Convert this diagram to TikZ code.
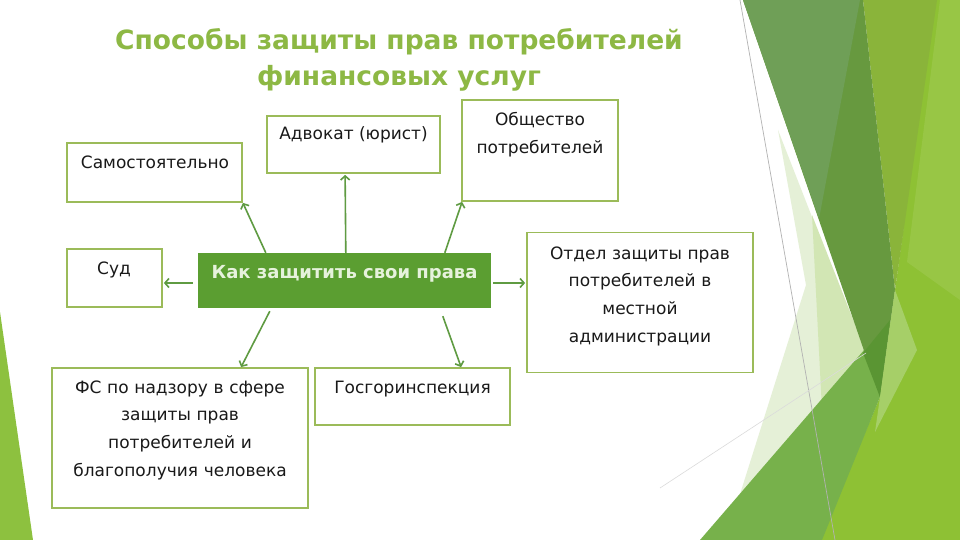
\documentclass[tikz,border=0pt]{standalone}
\usepackage{fontspec}
\setmainfont{DejaVu Sans}
\usetikzlibrary{arrows.meta,calc}
\definecolor{titlec}{HTML}{8DB844}
\definecolor{boxc}{HTML}{9BBB59}
\definecolor{arrc}{HTML}{5F9B42}
\definecolor{centc}{HTML}{5B9E31}
\definecolor{centt}{HTML}{E6F2DC}
\definecolor{darkg}{HTML}{67993F}
\definecolor{sageg}{HTML}{6F9F57}
\definecolor{oliveg}{HTML}{8AB43A}
\definecolor{brightg}{HTML}{8EC134}
\definecolor{stripg}{HTML}{98C645}
\definecolor{medg}{HTML}{77B14B}
\definecolor{patchg}{HTML}{5A9533}
\definecolor{sliverg}{HTML}{A6CF68}
\definecolor{paleg}{HTML}{E5F0D7}
\definecolor{pale2g}{HTML}{D2E6B4}
\definecolor{leftg}{HTML}{8DC13F}
\tikzset{
  box/.style={draw=boxc, line width=1.8pt, fill=white, inner sep=0pt},
  txt/.style={anchor=base, inner sep=0pt, align=center, text=black!90,
    font=\fontsize{17}{27.8}\selectfont},
  arr/.style={draw=arrc, line width=1.6pt, -{Straight Barb[length=4pt,width=9pt]}},
  ttl/.style={text=titlec, inner sep=0pt, anchor=base, font=\bfseries\fontsize{26.5}{36}\selectfont}
}
\begin{document}
\begin{tikzpicture}[x=1pt,y=-1pt]
\fill[white] (0,0) rectangle (960,540);
\useasboundingbox (0,0) rectangle (960,540);
% decorative background
\fill[leftg] (0,312) -- (33,540) -- (0,540) -- cycle;
\fill[brightg] (935,0) -- (960,0) -- (960,540) -- (820,540) -- (880,397) -- (895,290) -- cycle;
\fill[stripg] (940,0) -- (960,0) -- (960,300) -- (907,262) -- cycle;
\fill[oliveg] (863,0) -- (937,0) -- (895,290) -- cycle;
\fill[paleg] (778,130) -- (806,285) -- (735,510) -- (866,355) -- cycle;
\fill[pale2g] (812,215) -- (869,360) -- (822,410) -- cycle;
\fill[medg] (700,540) -- (890,320) -- (880,397) -- (822,540) -- cycle;
\fill[darkg] (743,0) -- (863,0) -- (895,290) -- (880,397) -- cycle;
\fill[sageg] (743,0) -- (860,0) -- (819,219) -- cycle;
\fill[patchg] (863,353) -- (890,320) -- (880,397) -- cycle;
\fill[sliverg] (895,290) -- (917,350) -- (875,432) -- (880,397) -- cycle;
\draw[color=black!30, line width=0.7pt] (740,0) -- (835,540);
\draw[color=black!14, line width=0.6pt] (660,488) -- (866,353);
% title
\node[ttl] (t1) at (399,50) {Способы защиты прав потребителей};
\node[ttl] (t2) at (399,86) {финансовых услуг};
% boxes
\node[box, minimum width=175pt, minimum height=59pt] (sam) at (154.5,172.5) {};
\node[txt] (samt) at (155,168) {Самостоятельно};
\node[box, minimum width=173pt, minimum height=57pt] (adv) at (353.5,144.5) {};
\node[txt] (advt) at (353.5,140) {Адвокат (юрист)};
\node[box, minimum width=156pt, minimum height=101pt] (obs) at (540,150.5) {};
\node[txt, text width=150pt] (obst) at (540,126) {Общество\\потребителей};
\node[box, minimum width=95pt, minimum height=58pt] (sud) at (114.5,278) {};
\node[txt] (sudt) at (114,274) {Суд};
\node[draw=none, fill=centc, minimum width=293pt, minimum height=55pt, inner sep=0pt] (c) at (344.5,280.5) {};
\node[anchor=base, inner sep=0pt, text=centt, font=\bfseries\fontsize{18}{22}\selectfont] (ct) at (344.5,278) {Как защитить свои права};
\node[box, minimum width=226pt, minimum height=140pt] (otd) at (640,302.5) {};
\node[txt, text width=220pt] (otdt) at (640,259) {Отдел защиты прав\\потребителей в\\местной\\администрации};
\node[box, minimum width=256pt, minimum height=140pt] (fs) at (180,438) {};
\node[txt, text width=250pt] (fst) at (180,393) {ФС по надзору в сфере\\защиты прав\\потребителей и\\благополучия человека};
\node[box, minimum width=195pt, minimum height=57pt] (gos) at (412.5,396.5) {};
\node[txt] (gost) at (412.5,393) {Госгоринспекция};
% arrows
\draw[arr] ($(c.north west)+(68,0)$) -- (sam.south east);
\draw[arr] ($(c.north west)+(148,0)$) -- ($(adv.south west)+(79,1)$);
\draw[arr] ($(c.north west)+(247,0)$) -- ($(obs.south west)+(1,0)$);
\draw[arr] ($(c.west)+(-5,2.5)$) -- ($(sud.east)+(1,5)$);
\draw[arr] ($(c.east)+(2,2.5)$) -- ($(otd.west)+(-1,-19.5)$);
\draw[arr] ($(c.south west)+(72,3)$) -- ($(fs.north west)+(190,0)$);
\draw[arr] ($(c.south west)+(245,8)$) -- ($(gos.north west)+(147,0)$);
\end{tikzpicture}
\end{document}
